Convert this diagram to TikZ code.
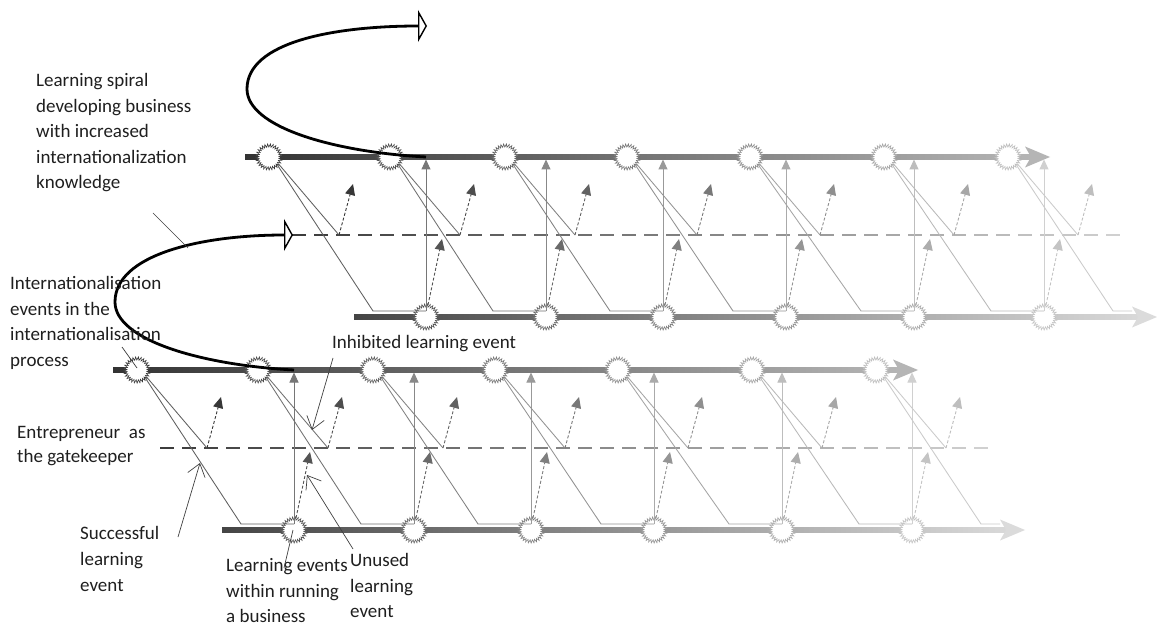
\documentclass[tikz,border=0pt]{standalone}
\usepackage{fontspec}
\setmainfont{Carlito}
\usetikzlibrary{arrows.meta,decorations.pathmorphing}

\tikzset{
  burst/.style={circle, draw=#1, fill=white, line width=0.6pt, minimum size=23pt, inner sep=0pt,
    decorate, decoration={zigzag, segment length=2.5pt, amplitude=1.6pt}},
  thinln/.style={draw=#1, line width=0.85pt},
  upar/.style={draw=#1, line width=1pt, -{Triangle[length=10pt,width=9pt]}},
  dasharr/.style={draw=#1, line width=0.9pt, dash pattern=on 3pt off 2pt, -{Triangle[length=11pt,width=10pt]}},
  spiral/.style={line width=2.8pt, draw=#1, -{Triangle[open, length=9pt, width=32pt, line width=1.4pt]}},
  pointer/.style={draw=black!75, line width=0.7pt},
  barb/.style={pointer, -{Straight Barb[length=12pt, width=18pt, line width=0.7pt]}},
  lbl/.style={font=\fontsize{19}{25.5}\selectfont, align=left, anchor=north west, inner sep=0pt, text=black!88},
}

\newcommand\pfade[2]{\pgfmathsetmacro#1{max(12,80-0.07127*((#2)-113))}}

\newcommand\drawmodule[3]{%
\begin{scope}[shift={(#1,#2)}]
  % thick timelines
  \shade[left color=black!80, right color=black!29] (113,367.6) rectangle (899,372.4);
  \fill[black!29] (918,370) -- (893,359.5) -- (899,370) -- (893,380.5) -- cycle;
  \shade[left color=black!73, right color=black!15] (222,527.6) rectangle (1006,532.4);
  \fill[black!14] (1025,530) -- (1000,519.5) -- (1006,530) -- (1000,540.5) -- cycle;
  % gatekeeper dashed line
  \foreach \k in {0,...,37}{
    \pfade\fadeK{160+22*\k}
    \draw[black!\fadeK, line width=2.6pt] (160+22*\k,448) -- (174+22*\k,448);
  }
  \coordinate (#3DS) at (161,448);
  % bursts
  \foreach \t/\b [count=\i] in {137/294,258/414,373/531,495/654,618/782,752/912,876/1034}{
    \pfade\fadeT{\t}
    \pfade\fadeB{\b}
    \node[burst=black!\fadeT] (#3T\i) at (\t,370) {};
    \ifnum\i<7
      \node[burst=black!\fadeB] (#3B\i) at (\b,530) {};
    \fi
  }
  % thin connectors
  \foreach \t/\b [count=\i] in {137/294,258/414,373/531,495/654,618/782,752/912,876/1034}{
    \pfade\fadeT{\t}
    \pfade\fadeB{\b}
    \pgfmathsetmacro\thinT{0.8*\fadeT}
    \pgfmathsetmacro\thinB{0.8*\fadeB}
    \pgfmathsetmacro\ex{min(\b,1000)}
    \coordinate (#3D\i) at (\t+70,448);
    \coordinate (#3H\i) at (\b-53,524);
    \coordinate (#3E\i) at (\ex,524);
    \coordinate (#3U\i) at (\t+84,397);
    \draw[thinln=black!\thinT] (#3T\i.-36) -- (#3D\i);
    \draw[thinln=black!\thinT] (#3T\i.-44) -- (#3H\i) -- (#3E\i);
    \draw[dasharr=black!\fadeT] (#3D\i) -- (#3U\i);
    \ifnum\i<7
      \coordinate (#3V\i) at (\b,372.5);
      \coordinate (#3F\i) at (\b+2,518);
      \coordinate (#3W\i) at (\b+16,452);
      \draw[upar=black!\thinB] (#3E\i) -- (#3V\i);
      \draw[dasharr=black!\fadeB] (#3F\i) -- (#3W\i);
    \fi
  }
  \coordinate (#3S) at (294,370);
\end{scope}}

\begin{document}
\begin{tikzpicture}[x=1pt,y=-1pt]
\fill[white] (0,0) rectangle (1157,628);
\useasboundingbox (0,0) rectangle (1157,628);

\drawmodule{0}{0}{lo}
\drawmodule{132}{-213}{up}

% spirals
\coordinate (loM) at (115,302);
\coordinate (upM) at (247,89);
\coordinate (upEnd) at (427,26);
\draw[spiral=black] (loS) .. controls +(-93,-5) and +(0,38) .. (loM)
      .. controls +(0,-47) and +(-93,0) .. (upDS);
\draw[spiral=black] (upS) .. controls +(-93,-5) and +(0,38) .. (upM)
      .. controls +(0,-47) and +(-93,0) .. (upEnd);

% labels
\node[lbl] (tSpiral) at (36,73.5) {Learning spiral\\developing business\\with increased\\internationalization\\knowledge};
\node[lbl] (tEvents) at (10,276.5) {Internationalisation\\events in the\\internationalisation\\process};
\node[lbl] (tInhib) at (332,335.5) {Inhibited learning event};
\node[lbl, font=\fontsize{19}{24}\selectfont] (tGate) at (17,426.5) {Entrepreneur\ \ as\\the gatekeeper};
\node[lbl, font=\fontsize{19}{26}\selectfont] (tSucc) at (80,526.5) {Successful\\learning\\event};
\node[lbl] (tRun) at (226,558.5) {Learning events\\within running\\a business};
\node[lbl] (tUnused) at (350,553.5) {Unused\\learning\\event};

% pointers
\coordinate (p1a) at (153,213); \coordinate (p1b) at (188,248);
\coordinate (p2a) at (122,347); \coordinate (p2b) at (137,368);
\coordinate (p3a) at (333,358); \coordinate (p3b) at (312,430);
\coordinate (p4a) at (178,537); \coordinate (p4b) at (200,463);
\coordinate (p5a) at (284,568); \coordinate (p5b) at (293,530);
\coordinate (p6a) at (353,549); \coordinate (p6b) at (307,475);
\draw[pointer] (p1a) -- (p1b);
\draw[pointer] (p2a) -- (p2b);
\draw[barb] (p3a) -- (p3b);
\draw[barb] (p4a) -- (p4b);
\draw[pointer] (p5a) -- (p5b);
\draw[barb] (p6a) -- (p6b);
\end{tikzpicture}
\end{document}
